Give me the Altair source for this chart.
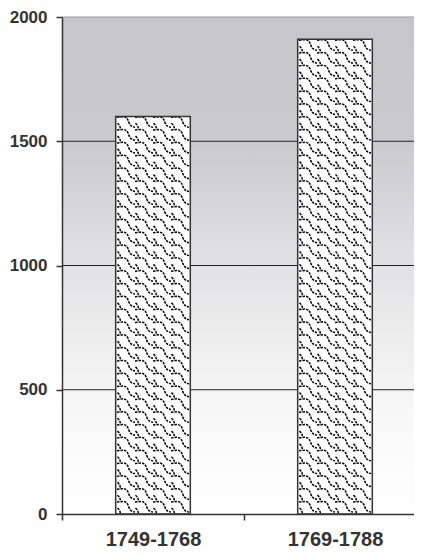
import altair as alt
import pandas as pd

periods = ["1749-1768", "1769-1788"]
counts = [1600, 1910]
y_ticks = [0, 500, 1000, 1500, 2000]

bars = pd.DataFrame({"period": periods, "count": counts})
grid = pd.DataFrame({"v": y_ticks[1:], "top": [v == 2000 for v in y_ticks[1:]]})

# decorative fill pattern rows, derived from the bar values
tile_rows = []
for p, c in zip(periods, counts):
    n = round(c / 52)
    h = c / n
    for i in range(n):
        tile_rows.append({"period": p, "yc": h * (i + 0.5)})
tiles = pd.DataFrame(tile_rows)

FONT = "Liberation Sans"

x_enc = alt.X(
    "period:N", sort=periods,
    scale=alt.Scale(paddingInner=0, paddingOuter=0, range=[0, 364]),
    axis=alt.Axis(title=None, labelAngle=0, tickBand="extent", tickSize=6,
                  tickColor="#333", domainColor="#333", domainWidth=1.5,
                  tickWidth=1.5, labelFont=FONT, labelFontWeight="bold",
                  labelFontSize=20, labelColor="#333", labelPadding=9,
                  grid=False, zindex=1),
)
y_scale = alt.Scale(domain=[0, 2000], nice=False)
y_axis = alt.Axis(title=None, values=y_ticks, format="d", tickSize=6, tickColor="#333",
                  tickWidth=1.5, domainColor="#333", domainWidth=1.5,
                  labelFont=FONT, labelFontWeight="bold", labelFontSize=17,
                  labelColor="#333", labelPadding=9, grid=False, zindex=1)

background = alt.Chart(pd.DataFrame({"lo": [y_ticks[0]], "hi": [y_ticks[-1]]})).mark_rect(
    fill=alt.Gradient(gradient="linear", x1=0, x2=0, y1=0, y2=1,
                      stops=[alt.GradientStop(offset=0, color="#c6c6c9"),
                             alt.GradientStop(offset=0.25, color="#cacacd"),
                             alt.GradientStop(offset=0.5, color="#e2e2e4"),
                             alt.GradientStop(offset=0.78, color="#f7f7f7"),
                             alt.GradientStop(offset=1, color="#ffffff")])
).encode(
    y=alt.Y("hi:Q", scale=y_scale, axis=y_axis),
    y2="lo:Q",
)

gridlines = alt.Chart(grid).mark_rule(strokeWidth=1.2).encode(
    y=alt.Y("v:Q"),
    color=alt.Color("top:N", scale=alt.Scale(domain=[False, True], range=["#222", "#9a9a9a"]),
                    legend=None),
)

base_bars = alt.Chart(bars).mark_bar(width={"band": 0.41}, fill="white").encode(
    x=x_enc,
    y=alt.Y("count:Q"),
)

tile_path = ("M -1,-0.62 L -0.35,-0.68 C 0.05,-0.68 0.2,-0.4 0.3,-0.1 "
             "C 0.42,0.3 0.7,0.48 1,0.5 M -0.95,0.05 C -0.7,0.25 -0.62,0.5 -0.62,0.7")
tile_layers = []
for off in [-27, -9, 9, 27]:
    tile_layers.append(
        alt.Chart(tiles).mark_point(shape=tile_path, size=324, filled=False,
                                    stroke="#000", strokeWidth=1.5,
                                    strokeDash=[2.5, 1], xOffset=off, opacity=1).encode(
            x=alt.X("period:N", sort=periods),
            y=alt.Y("yc:Q"),
        )
    )

outline = alt.Chart(bars).mark_bar(width={"band": 0.41}, fill=None,
                                   stroke="#333", strokeWidth=1.5).encode(
    x=alt.X("period:N", sort=periods),
    y=alt.Y("count:Q"),
)

chart = alt.layer(background, gridlines, base_bars, *tile_layers, outline).properties(
    width=352, height=497,
    autosize=alt.AutoSizeParams(type="none"),
    padding={"left": 54, "top": 9, "right": 0, "bottom": 34},
).configure_view(stroke=None)

chart.save("out.html", embed_options={"renderer": "svg", "actions": False})
